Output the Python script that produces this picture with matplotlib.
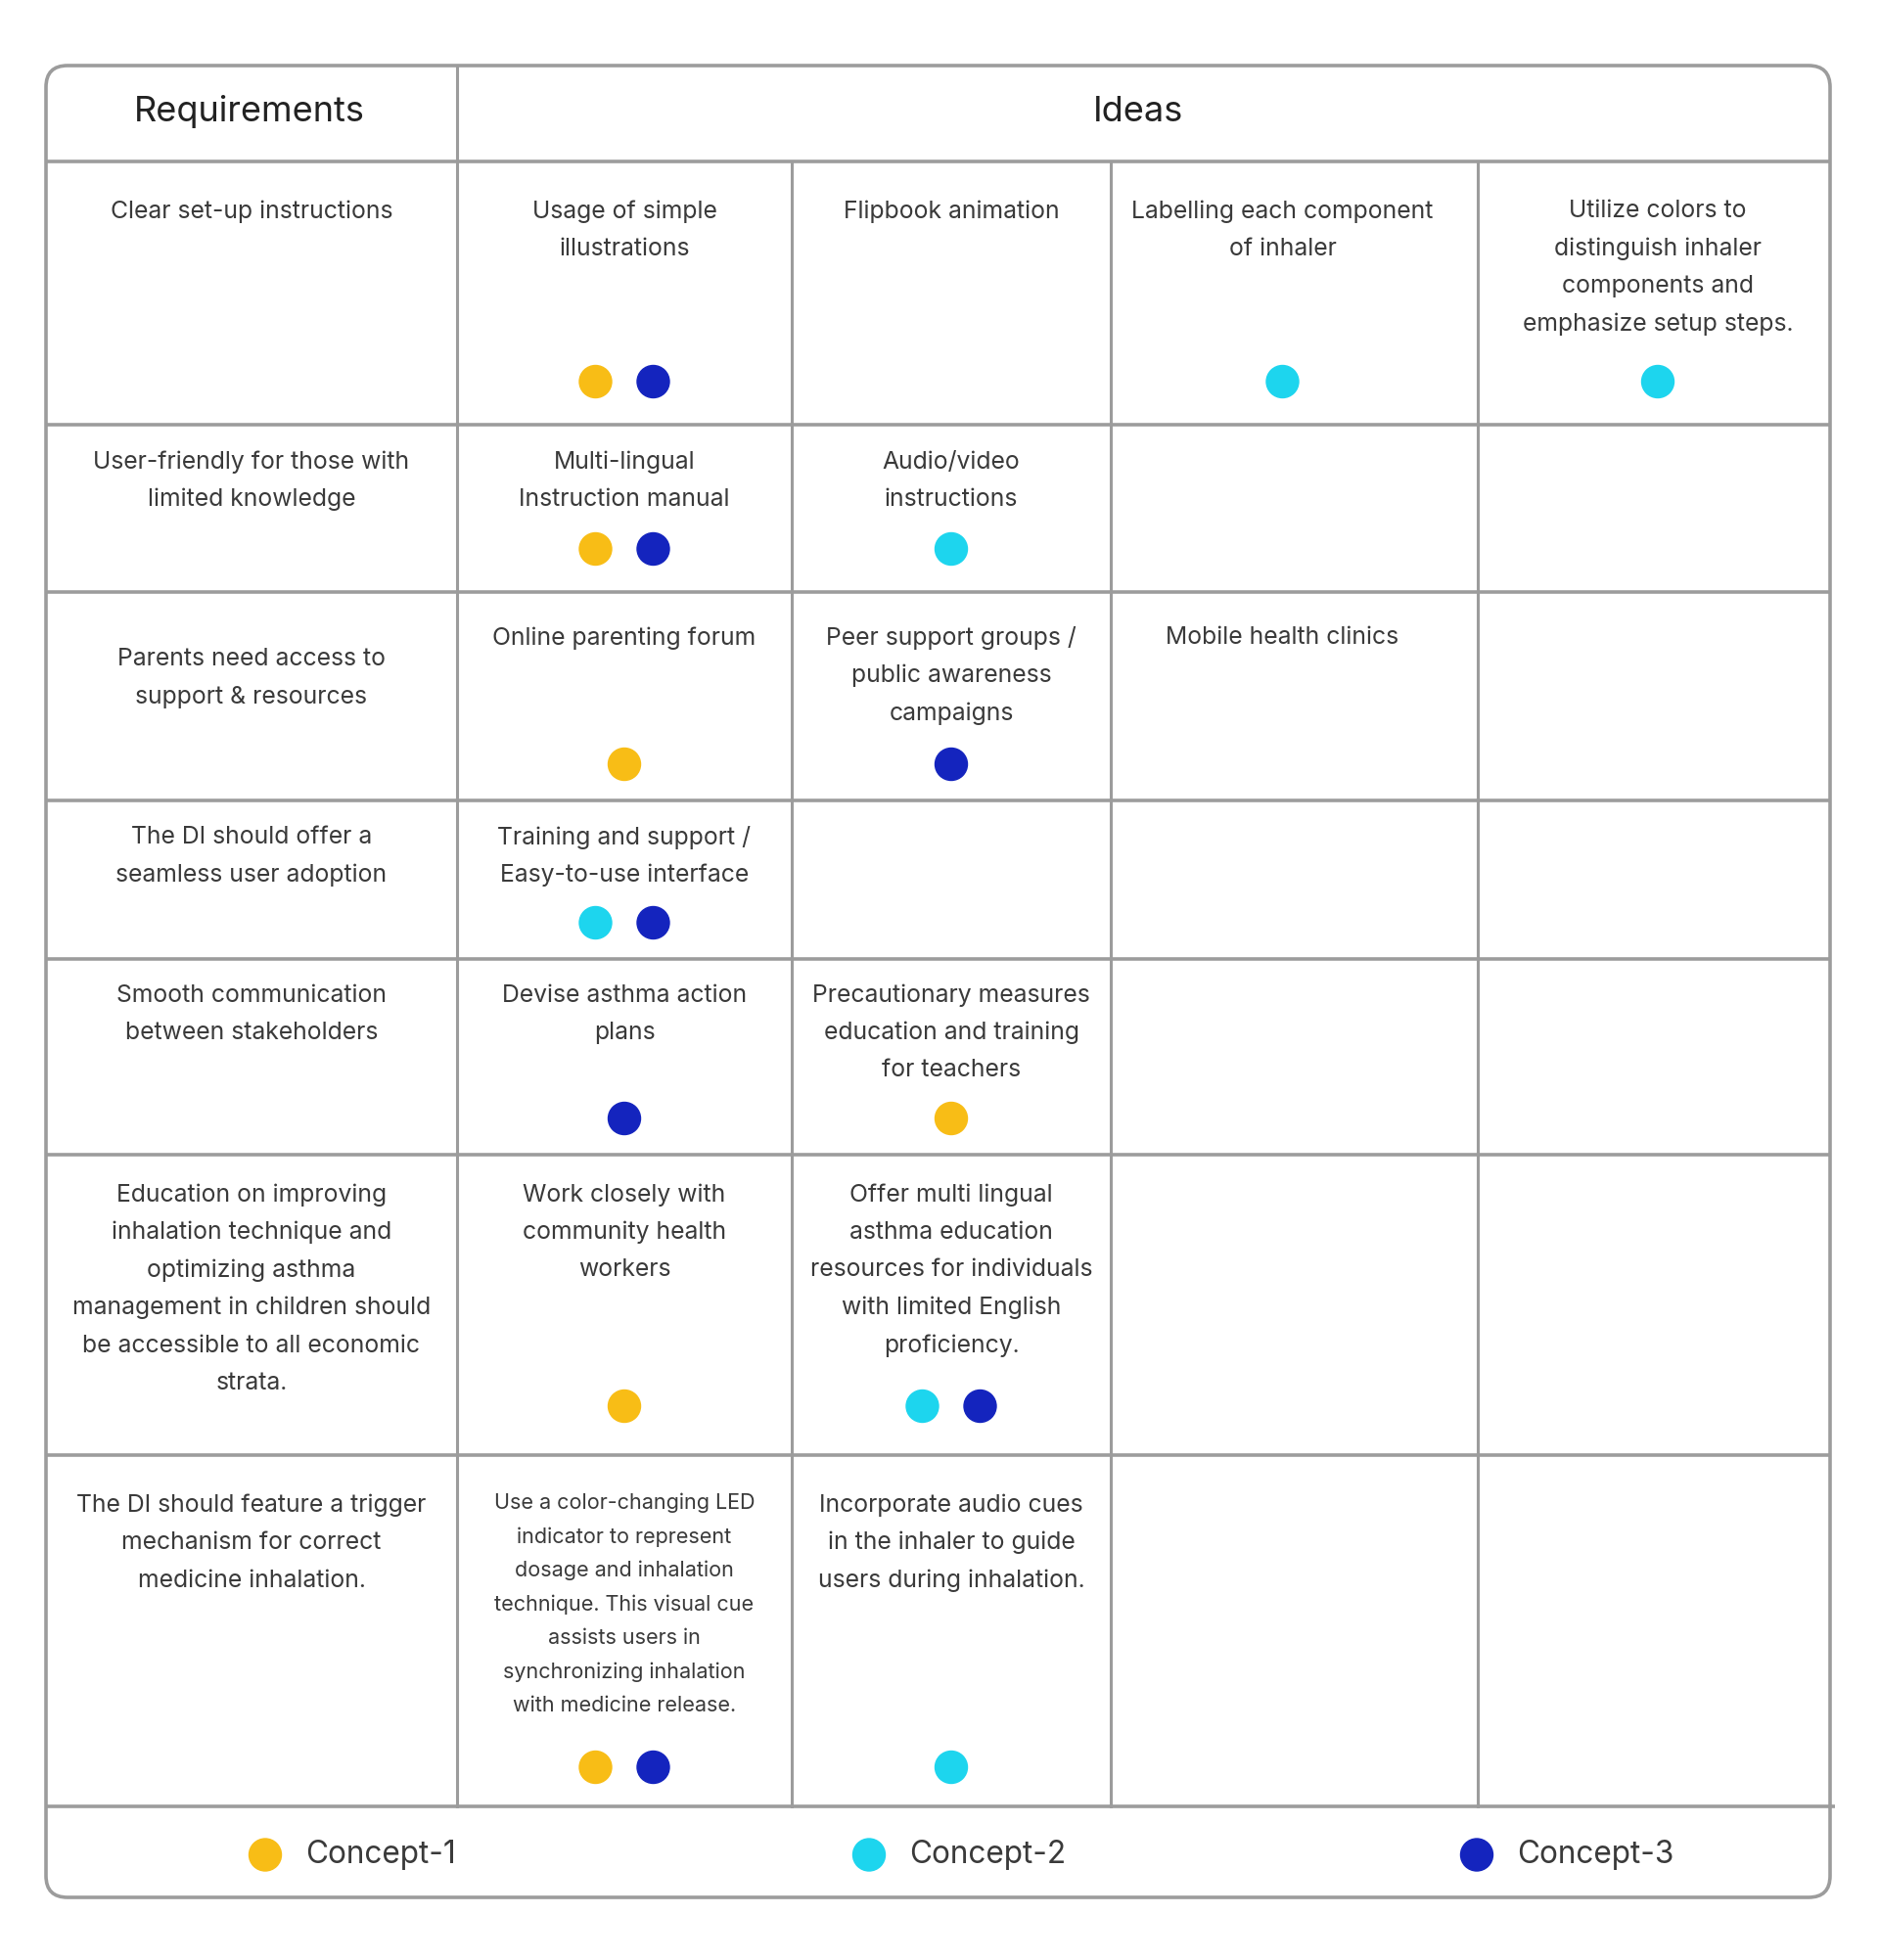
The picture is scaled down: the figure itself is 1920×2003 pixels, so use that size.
import matplotlib.pyplot as plt
from matplotlib.patches import FancyBboxPatch, Circle

plt.rcParams['font.family'] = ['Inter', 'DejaVu Sans']

# table content
requirements = [
    "Clear set-up instructions",
    "User-friendly for those with\nlimited knowledge",
    "Parents need access to\nsupport & resources",
    "The DI should offer a\nseamless user adoption",
    "Smooth communication\nbetween stakeholders",
    "Education on improving\ninhalation technique and\noptimizing asthma\nmanagement in children should\nbe accessible to all economic\nstrata.",
    "The DI should feature a trigger\nmechanism for correct\nmedicine inhalation.",
]
ideas = [
    ["Usage of simple\nillustrations", "Flipbook animation",
     "Labelling each component\nof inhaler",
     "Utilize colors to\ndistinguish inhaler\ncomponents and\nemphasize setup steps."],
    ["Multi-lingual\nInstruction manual", "Audio/video\ninstructions", "", ""],
    ["Online parenting forum", "Peer support groups /\npublic awareness\ncampaigns",
     "Mobile health clinics", ""],
    ["Training and support /\nEasy-to-use interface", "", "", ""],
    ["Devise asthma action\nplans", "Precautionary measures\neducation and training\nfor teachers", "", ""],
    ["Work closely with\ncommunity health\nworkers",
     "Offer multi lingual\nasthma education\nresources for individuals\nwith limited English\nproficiency.", "", ""],
    ["Use a color-changing LED\nindicator to represent\ndosage and inhalation\ntechnique. This visual cue\nassists users in\nsynchronizing inhalation\nwith medicine release.",
     "Incorporate audio cues\nin the inhaler to guide\nusers during inhalation.", "", ""],
]
# concepts each idea belongs to (1, 2, 3)
concepts = [
    [[1, 3], [], [2], [2]],
    [[1, 3], [2], [], []],
    [[1], [3], [], []],
    [[2, 3], [], [], []],
    [[3], [1], [], []],
    [[1], [2, 3], [], []],
    [[1, 3], [2], [], []],
]
concept_names = ["Concept-1", "Concept-2", "Concept-3"]
concept_colors = ["#F8BD16", "#1DD5EE", "#1424BE"]

# layout in pixels
col_x = [47, 467, 809, 1135, 1510, 1870]
col_shift = [0, 0, -12, 4]
row_y = [67, 165, 434, 605, 818, 980, 1180, 1487, 1846, 1939]
req_top = [51, 38, 69, 38, 37, 41, 51]
idea_top = [51, 38, 47, 38, 37, 41, 51]
dot_off = [44, 44, 37, 37, 37, 50, 40]
line_col = "#9c9c9c"
text_col = "#3a3a3a"

fig = plt.figure(figsize=(19.2, 20.03), dpi=100)
ax = fig.add_axes([0, 0, 1, 1])
ax.set_xlim(0, 1920)
ax.set_ylim(2003, 0)
ax.axis('off')

border = FancyBboxPatch((col_x[0], row_y[0]), col_x[-1] - col_x[0], row_y[-1] - row_y[0],
                        boxstyle="round,pad=0,rounding_size=22", fill=False,
                        edgecolor=line_col, linewidth=2.6, zorder=3)
ax.add_patch(border)

# horizontal lines
for y in row_y[1:-1]:
    x_end = col_x[-1] + 5 if y == row_y[-2] else col_x[-1]
    ax.plot([col_x[0], x_end], [y, y], color=line_col, lw=2.6, solid_capstyle='butt', zorder=2)
# vertical lines
ax.plot([col_x[1], col_x[1]], [row_y[0], row_y[-2]], color=line_col, lw=2.2, zorder=2)
for x in col_x[2:-1]:
    ax.plot([x, x], [row_y[1], row_y[-2]], color=line_col, lw=2.2, zorder=2)

# header
ax.text((col_x[0] + col_x[1]) / 2 - 2, (row_y[0] + row_y[1]) / 2 - 2, "Requirements",
        ha='center', va='center', fontsize=26, color="#222222")
ax.text((col_x[1] + col_x[-1]) / 2 - 6, (row_y[0] + row_y[1]) / 2 - 2, "Ideas",
        ha='center', va='center', fontsize=26, color="#222222")


def draw_lines(x, y0, txt, size, spacing):
    for k, line in enumerate(txt.split("\n")):
        ax.text(x, y0 + k * spacing, line, ha='center', va='center',
                fontsize=size, color=text_col)


for i, req in enumerate(requirements):
    top, bottom = row_y[i + 1], row_y[i + 2]
    draw_lines((col_x[0] + col_x[1]) / 2, top + req_top[i], req, 17.8, 38.5)
    for j, idea in enumerate(ideas[i]):
        cx = (col_x[j + 1] + col_x[j + 2]) / 2 + col_shift[j]
        if idea:
            small = idea.count("\n") >= 6
            draw_lines(cx, top + idea_top[i] - (2 if small else 0), idea,
                       15.5 if small else 17.8, 34.5 if small else 38.5)
        cs = concepts[i][j]
        for k, c in enumerate(cs):
            dx = (k - (len(cs) - 1) / 2) * 59
            ax.add_patch(Circle((cx + dx, bottom - dot_off[i]), 16.5,
                                color=concept_colors[c - 1], zorder=4))

# legend row
leg_y = (row_y[-2] + row_y[-1]) / 2 + 3
leg_x = [271, 888, 1509]
for k, name in enumerate(concept_names):
    ax.add_patch(Circle((leg_x[k], leg_y), 16.5, color=concept_colors[k], zorder=4))
    ax.text(leg_x[k] + 41, leg_y, name, ha='left', va='center', fontsize=22.7, color=text_col)

fig.savefig("out.png", dpi=100, facecolor="white")
